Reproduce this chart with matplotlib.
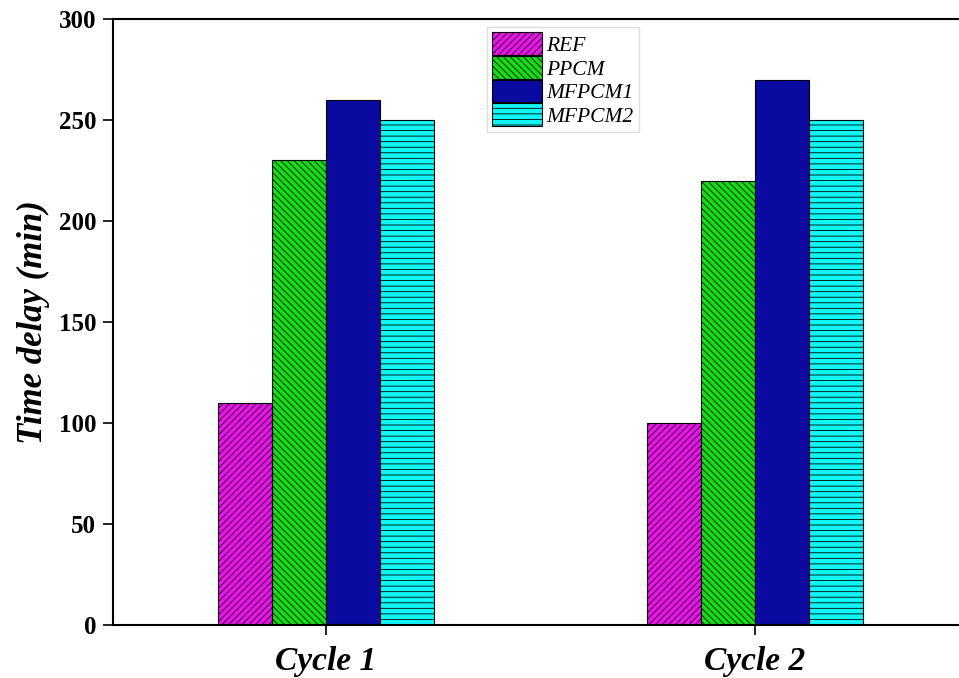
import numpy as np
import matplotlib.pyplot as plt
import matplotlib as mpl

cycles = ['Cycle 1', 'Cycle 2']
series = ['REF', 'PPCM', 'MFPCM1', 'MFPCM2']
ref = [110, 100]
ppcm = [230, 220]
mfpcm1 = [260, 270]
mfpcm2 = [250, 250]

colors = ['#ee10ee', '#10e010', '#0a0aa0', '#10f5f5']
hatches = ['/////', '\\\\\\\\\\', '', '---']

mpl.rcParams['font.family'] = ['Liberation Serif', 'DejaVu Serif']
mpl.rcParams['hatch.linewidth'] = 0.6

fig = plt.figure(figsize=(9.59, 6.78), dpi=100)
ax = fig.add_axes([113/959, 1-625/678, 1-113/959, (625-19)/678])

x = np.arange(len(cycles))
w = 0.126
vals = [ref, ppcm, mfpcm1, mfpcm2]
for i, (s, v) in enumerate(zip(series, vals)):
    ax.bar(x + (i - 1.5) * w, v, w, label=s, color=colors[i],
           edgecolor='black', linewidth=0.8, hatch=hatches[i])

ax.set_xlim(-0.497, 1.476)
ax.set_ylim(0, 300)
ax.set_yticks([0, 50, 100, 150, 200, 250, 300])
ax.set_xticks(x)
ax.set_xticklabels(cycles, fontsize=24, fontweight='bold', style='italic')
for t in ax.get_yticklabels():
    t.set_fontweight('bold')
    t.set_fontsize(18)
ax.set_ylabel('Time delay (min)', fontsize=25, fontweight='bold', style='italic', labelpad=6)

ax.spines['right'].set_visible(False)
for sp in ['left', 'bottom', 'top']:
    ax.spines[sp].set_linewidth(1.5)
ax.tick_params(axis='both', direction='out', length=7, width=1.2)
ax.tick_params(axis='y', pad=5)
ax.tick_params(axis='x', pad=8)

leg = ax.legend(loc='upper left', bbox_to_anchor=(0.442, 0.987), prop={'style': 'italic', 'size': 15.5},
                handlelength=2.3, handleheight=1.25, labelspacing=0.0, borderpad=0.25,
                handletextpad=0.2, borderaxespad=0, fancybox=False, framealpha=1,
                edgecolor='#dddddd')

fig.savefig('out.png', dpi=100)
